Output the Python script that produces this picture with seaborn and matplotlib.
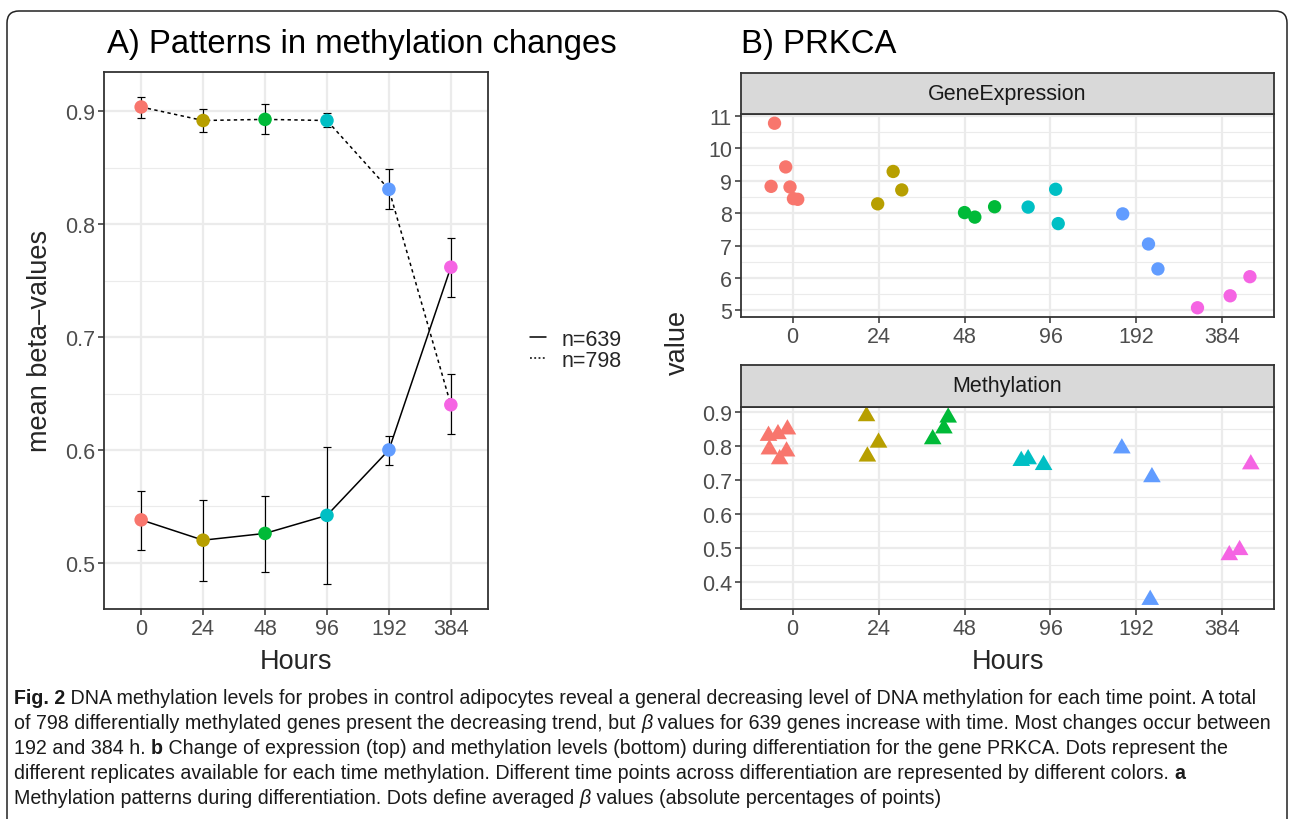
import numpy as np
import pandas as pd
import matplotlib
matplotlib.use("Agg")
import matplotlib.pyplot as plt
import seaborn as sns
from matplotlib.lines import Line2D
from matplotlib.patches import FancyBboxPatch
from matplotlib.path import Path
from matplotlib import font_manager, transforms
from matplotlib.font_manager import FontProperties

# ---------------- data ----------------
hours_labels = ["0", "24", "48", "96", "192", "384"]
palette = ["#F8766D", "#B79F00", "#00BA38", "#00BFC4", "#619CFF", "#F564E3"]

# Panel A: mean beta-values with error bars
inc_mean = [0.538, 0.520, 0.526, 0.542, 0.600, 0.762]   # n=639
inc_lo   = [0.511, 0.484, 0.492, 0.481, 0.587, 0.736]
inc_hi   = [0.564, 0.556, 0.559, 0.603, 0.612, 0.788]
dec_mean = [0.904, 0.892, 0.893, 0.892, 0.831, 0.640]   # n=798
dec_lo   = [0.894, 0.882, 0.880, 0.886, 0.814, 0.614]
dec_hi   = [0.913, 0.902, 0.907, 0.899, 0.849, 0.667]
group_labels = ["n=639", "n=798"]

# Panel B: PRKCA replicates (hours, jitter offset, value)
expr_hours  = ["0"] * 6 + ["24"] * 3 + ["48"] * 3 + ["96"] * 3 + ["192"] * 3 + ["384"] * 3
expr_jitter = [-0.21, -0.08, -0.25, -0.03, 0.01, 0.06,
               -0.01, 0.17, 0.27,
               0.00, 0.12, 0.35,
               -0.26, 0.06, 0.09,
               -0.16, 0.14, 0.25,
               -0.29, 0.09, 0.32]
expr_value  = [10.78, 9.43, 8.83, 8.81, 8.45, 8.43,
               8.29, 9.29, 8.72,
               8.02, 7.88, 8.20,
               8.19, 8.74, 7.68,
               7.98, 7.05, 6.28,
               5.08, 5.45, 6.04]

meth_hours  = ["0"] * 6 + ["24"] * 3 + ["48"] * 3 + ["96"] * 3 + ["192"] * 3 + ["384"] * 3
meth_jitter = [-0.28, -0.17, -0.06, -0.27, -0.15, -0.07,
               -0.14, 0.00, -0.13,
               -0.19, -0.24, -0.37,
               -0.34, -0.26, -0.08,
               -0.17, 0.18, 0.16,
               0.08, 0.20, 0.33]
meth_value  = [0.831, 0.836, 0.850, 0.791, 0.762, 0.785,
               0.889, 0.811, 0.770,
               0.885, 0.853, 0.821,
               0.757, 0.762, 0.745,
               0.794, 0.709, 0.347,
               0.479, 0.494, 0.747]

caption_lines = [
    [("Fig. 2", "bold", "normal"),
     (" DNA methylation levels for probes in control adipocytes reveal a general decreasing level of DNA methylation for each time point. A total", "normal", "normal")],
    [("of 798 differentially methylated genes present the decreasing trend, but ", "normal", "normal"),
     ("\u03b2", "normal", "italic"),
     (" values for 639 genes increase with time. Most changes occur between", "normal", "normal")],
    [("192 and 384 h. ", "normal", "normal"), ("b", "bold", "normal"),
     (" Change of expression (top) and methylation levels (bottom) during differentiation for the gene PRKCA. Dots represent the", "normal", "normal")],
    [("different replicates available for each time methylation. Different time points across differentiation are represented by different colors. ", "normal", "normal"),
     ("a", "bold", "normal")],
    [("Methylation patterns during differentiation. Dots define averaged ", "normal", "normal"),
     ("\u03b2", "normal", "italic"),
     (" values (absolute percentages of points)", "normal", "normal")],
]

# ---------------- style ----------------
sns.set_theme(style="white")
plt.rcParams["font.family"] = ["Liberation Sans", "DejaVu Sans"]

W, H = 1290, 820
fig = plt.figure(figsize=(W / 100, H / 100), dpi=100)
fig.patch.set_facecolor("white")

GRID = "#EBEBEB"
DARK = "#333333"
TICKTXT = "#4D4D4D"


def ax_px(l, t, r, b):
    return fig.add_axes([l / W, 1 - b / H, (r - l) / W, (b - t) / H])


def style_panel(ax, ylim, yticks, yminor, ylabels):
    ax.set_facecolor("white")
    ax.set_xlim(-0.6, 5.6)
    ax.set_ylim(*ylim)
    ax.set_xticks(range(6))
    ax.set_xticklabels(hours_labels)
    ax.set_yticks(yticks)
    ax.set_yticklabels(ylabels)
    ax.set_yticks(yminor, minor=True)
    ax.grid(which="major", color=GRID, lw=1.6)
    ax.grid(which="minor", axis="y", color=GRID, lw=0.8)
    ax.set_axisbelow(True)
    for s in ax.spines.values():
        s.set_color(DARK)
        s.set_linewidth(1.3)
        s.set_visible(True)
    ax.tick_params(which="major", bottom=True, left=True, top=False, right=False,
                   length=4, width=1.1, color=DARK, labelcolor=TICKTXT,
                   labelsize=15.5, direction="out", pad=2.5)
    ax.tick_params(which="minor", length=0)
    ax.set_xlabel("")
    ax.set_ylabel("")


def strip(l, t, r, b, label):
    sa = ax_px(l, t, r, b)
    sa.set_facecolor("#D9D9D9")
    sa.set_xticks([])
    sa.set_yticks([])
    for s in sa.spines.values():
        s.set_color(DARK)
        s.set_linewidth(1.3)
        s.set_visible(True)
    sa.text(0.5, 0.5, label, ha="center", va="center", fontsize=15.5,
            color="#1A1A1A", transform=sa.transAxes)
    return sa


# ---------------- Panel A ----------------
axA = ax_px(104, 73, 488, 610)
dfA = pd.DataFrame({
    "pos": list(range(6)) * 2,
    "mean": inc_mean + dec_mean,
    "lo": inc_lo + dec_lo,
    "hi": inc_hi + dec_hi,
    "group": [group_labels[0]] * 6 + [group_labels[1]] * 6,
    "hours": hours_labels * 2,
})
sns.lineplot(data=dfA, x="pos", y="mean", style="group", style_order=group_labels,
             dashes={group_labels[0]: "", group_labels[1]: (2.2, 2.2)},
             color="black", lw=1.1, legend=False, ax=axA, zorder=2,
             errorbar=None)
for g in group_labels:
    d = dfA[dfA["group"] == g]
    axA.errorbar(d["pos"], d["mean"], yerr=[d["mean"] - d["lo"], d["hi"] - d["mean"]],
                 fmt="none", ecolor="black", elinewidth=0.85, capsize=3,
                 capthick=0.85, zorder=2.5)
sns.scatterplot(data=dfA, x="pos", y="mean", hue="hours", hue_order=hours_labels,
                palette=palette, s=95, linewidth=0, legend=False, ax=axA, zorder=3)
style_panel(axA, (0.459, 0.935), [0.5, 0.6, 0.7, 0.8, 0.9],
            [0.55, 0.65, 0.75, 0.85], ["0.5", "0.6", "0.7", "0.8", "0.9"])

handles = [Line2D([], [], color="black", lw=1.1),
           Line2D([], [], color="black", lw=1.1, dashes=(1.2, 1.6))]
fig.legend(handles, group_labels, loc="center left",
           bbox_to_anchor=(530 / W, 1 - 351 / H), frameon=False, fontsize=15.5,
           handlelength=0.75, handletextpad=0.7, labelspacing=0.0,
           borderpad=0, borderaxespad=0)

# ---------------- Panel B ----------------
idx = {h: i for i, h in enumerate(hours_labels)}
dfE = pd.DataFrame({"hours": expr_hours, "jit": expr_jitter, "value": expr_value})
dfE["x"] = dfE["hours"].map(idx) + dfE["jit"]
dfM = pd.DataFrame({"hours": meth_hours, "jit": meth_jitter, "value": meth_value})
dfM["x"] = dfM["hours"].map(idx) + dfM["jit"]

axB1 = ax_px(741, 115, 1274, 318)
sns.scatterplot(data=dfE, x="x", y="value", hue="hours", hue_order=hours_labels,
                palette=palette, s=92, linewidth=0, legend=False, ax=axB1, zorder=3)
style_panel(axB1, (4.795, 11.065), list(range(5, 12)),
            [5.5, 6.5, 7.5, 8.5, 9.5, 10.5], [str(v) for v in range(5, 12)])
strip(741, 74, 1274, 115, "GeneExpression")

tri = Path([(-1.0, -0.577), (1.0, -0.577), (0.0, 1.155), (-1.0, -0.577)],
           [Path.MOVETO, Path.LINETO, Path.LINETO, Path.CLOSEPOLY])
axB2 = ax_px(741, 408, 1274, 610)
sns.scatterplot(data=dfM, x="x", y="value", hue="hours", hue_order=hours_labels,
                palette=palette, s=215, marker=tri, linewidth=0, legend=False,
                ax=axB2, zorder=3)
style_panel(axB2, (0.32, 0.916), [0.4, 0.5, 0.6, 0.7, 0.8, 0.9],
            [0.35, 0.45, 0.55, 0.65, 0.75, 0.85],
            ["0.4", "0.5", "0.6", "0.7", "0.8", "0.9"])
strip(741, 366, 1274, 408, "Methylation")

# ---------------- titles & labels ----------------
fig.text(107 / W, 1 - 53 / H, "A) Patterns in methylation changes", fontsize=23.7,
         ha="left", va="baseline", color="black")
fig.text(741 / W, 1 - 53 / H, "B) PRKCA", fontsize=23.7, ha="left",
         va="baseline", color="black")
fig.text(40 / W, 1 - 341 / H, "mean beta\u2013values", fontsize=19.5, rotation=90,
         ha="center", va="center")
fig.text(296 / W, 1 - 662 / H, "Hours", fontsize=19.5, ha="center", va="center")
fig.text(678 / W, 1 - 342 / H, "value", fontsize=19.5, rotation=90,
         ha="center", va="center")
fig.text(1008 / W, 1 - 662 / H, "Hours", fontsize=19.5, ha="center", va="center")

# ---------------- frame ----------------
frame = FancyBboxPatch((7, -60), 1280, 808 + 60,
                       boxstyle="round,pad=0,rounding_size=12",
                       transform=transforms.IdentityTransform(),
                       fill=False, edgecolor="#222222", lw=1.1)
fig.add_artist(frame)

# ---------------- caption ----------------
names = {f.name for f in font_manager.fontManager.ttflist}
cap_family = "Liberation Sans Narrow" if "Liberation Sans Narrow" in names else "Liberation Sans"
fams = [cap_family, "DejaVu Sans"]
renderer = fig.canvas.get_renderer()


def run_width(text, size, weight, style):
    fp = FontProperties(family=fams, size=size, weight=weight, style=style)
    w1, _, _ = renderer.get_text_width_height_descent("|" + text + "|", fp, ismath=False)
    w0, _, _ = renderer.get_text_width_height_descent("||", fp, ismath=False)
    return w1 - w0


base = 10.0
widths = [sum(run_width(t, base, wt, st) for t, wt, st in ln) for ln in caption_lines[:2]]
cap_size = base * 1258.0 / max(widths)

line_y = [697, 722, 747, 772, 797]
for runs, y in zip(caption_lines, line_y):
    x = 14.0
    for t, wt, st in runs:
        fig.text(x / W, 1 - y / H, t, fontsize=cap_size, family=fams, weight=wt,
                 style=st, ha="left", va="center_baseline", color="#1A1A1A")
        x += run_width(t, cap_size, wt, st)

fig.savefig("out.png", dpi=100)
